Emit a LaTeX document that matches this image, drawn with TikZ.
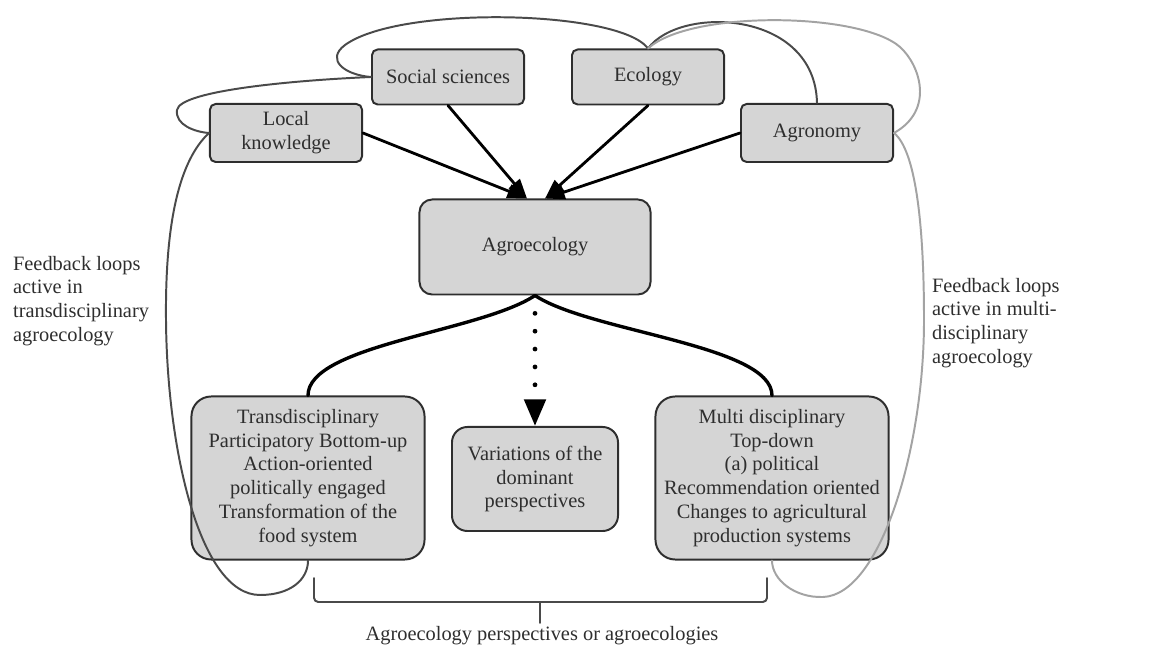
\documentclass[tikz,border=0pt]{standalone}
\usepackage{fontspec}
\setmainfont{Liberation Serif}
\usetikzlibrary{arrows.meta}
\definecolor{agro-ink}{HTML}{2E2E2E}
\definecolor{agro-fill}{HTML}{D5D5D5}
\definecolor{agro-loopdark}{HTML}{4A4A4A}
\definecolor{agro-looplight}{HTML}{A3A3A3}
\tikzset{
  field/.style={draw=agro-ink, fill=agro-fill, line width=1.4pt, rounded corners=4pt,
    minimum width=3.8cm, minimum height=1.375cm, align=center, text=agro-ink},
  perspective/.style={field, rounded corners=14pt, minimum width=5.825cm, minimum height=4.075cm},
  note/.style={align=left, text=agro-ink, inner sep=2pt},
  feed/.style={-{Triangle[length=14pt, width=10pt]}, line width=2pt},
  branch/.style={line width=2.4pt},
  variant/.style={line width=3.4pt, dash pattern=on 0pt off 12.7pt, shorten <=12.7pt,
    -{Triangle[length=19pt, width=15pt]}},
  loopdark/.style={draw=agro-loopdark, line width=1.4pt},
  looplight/.style={draw=agro-looplight, line width=1.4pt},
  brace/.style={draw=agro-loopdark, line width=1.4pt, rounded corners=3pt}
}
\begin{document}
\begin{tikzpicture}[x=0.025cm, y=0.025cm, >=Stealth, line cap=round, line join=round,
  font=\fontsize{14.5}{17}\selectfont]
  \useasboundingbox (0,0) rectangle (1156,650);
  % disciplines and knowledge
  \node[field] (ss) at (448,573) {Social sciences};
  \node[field] (eco) at (648,573) {Ecology};
  \node[field, minimum height=1.45cm] (local) at (286,517) {Local\\knowledge};
  \node[field, minimum height=1.45cm] (agron) at (817,517) {Agronomy};
  \node[field, rounded corners=9pt, minimum width=5.775cm, minimum height=2.375cm] (agro) at (535,403) {Agroecology};
  % perspectives
  \node[perspective] (trans) at (308,172) {Transdisciplinary\\Participatory Bottom-up\\Action-oriented\\politically engaged\\Transformation of the\\food system};
  \node[perspective, rounded corners=11pt, minimum width=4.15cm, minimum height=2.6cm] (var) at (535,171) {Variations of the\\dominant\\perspectives};
  \node[perspective] (multi) at (772,172) {Multi disciplinary\\Top-down\\(a) political\\Recommendation oriented\\Changes to agricultural\\production systems};
  % feedback labels
  \node[note, anchor=west] (fbtrans) at (10,349) {Feedback loops\\active in\\transdisciplinary\\agroecology};
  \node[note, anchor=west] (fbmulti) at (929,327) {Feedback loops\\active in multi-\\disciplinary\\agroecology};
  % feedback loops, transdisciplinary
  \draw[loopdark] (eco.north) .. controls (620,640) and (400,645) .. (345,605)
    .. controls (325,590) and (345,575) .. (ss.west);
  \draw[loopdark] (ss.west) .. controls (300,570) and (180,560) .. (177,540)
    .. controls (175,525) and (195,518) .. (local.west);
  \draw[loopdark] (local.west) .. controls (180,490) and (165,430) .. (166,330)
    .. controls (167,200) and (200,55) .. (260,55)
    .. controls (290,55) and (308,70) .. (trans.south);
  % feedback loops, multidisciplinary
  \draw[loopdark] (eco.north) .. controls (680,645) and (815,640) .. (agron.north);
  \draw[looplight] (eco.north) .. controls (690,640) and (860,638) .. (900,603)
    .. controls (920,585) and (935,540) .. (agron.east);
  \draw[looplight] (agron.east) .. controls (915,500) and (924,430) .. (924,330)
    .. controls (924,200) and (880,55) .. (823,53)
    .. controls (795,52) and (772,70) .. (multi.south);
  % arrows into agroecology
  \draw[feed] (local.east) -- ([xshift=-0.2cm]agro.north);
  \draw[feed] (ss.south) -- ([xshift=-0.2cm]agro.north);
  \draw[feed] (eco.south) -- ([xshift=0.25cm]agro.north);
  \draw[feed] (agron.west) -- ([xshift=0.25cm]agro.north);
  % branches to perspectives
  \draw[branch] (agro.south) .. controls (480,318) and (308,305) .. (trans.north);
  \draw[branch] (agro.south) .. controls (590,318) and (772,305) .. (multi.north);
  \draw[variant] (agro.south) -- (var.north);
  % brace
  \draw[brace] (314,72) -- (314,48) -- (767,48) -- (767,72);
  \coordinate (bracetip) at (540,48);
  \node[text=agro-ink] (persp) at (542,14) {Agroecology perspectives or agroecologies};
  \draw[brace] (bracetip) -- ++(0,-21);
\end{tikzpicture}
\end{document}
